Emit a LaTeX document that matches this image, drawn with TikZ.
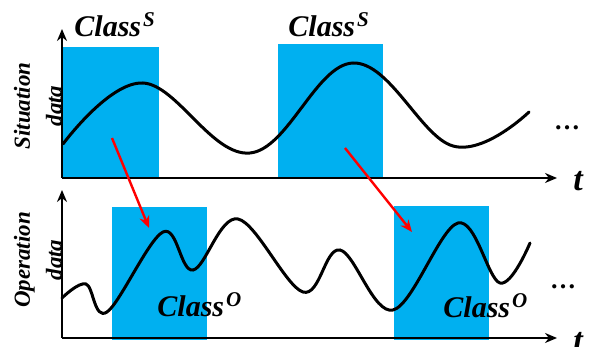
\documentclass[tikz,border=0pt]{standalone}
\usepackage{fontspec}
\setmainfont{Liberation Serif}
\usetikzlibrary{arrows.meta,positioning}
\definecolor{boxblue}{RGB}{0,176,240}
\tikzset{
  classbox/.style={
    fill = boxblue,
    draw = none
  },
  axis/.style={
    line width = 1.4pt,
    -{Stealth[length=6pt,width=5pt]}
  },
  signal/.style={
    line width = 1.5pt,
    line cap = round
  },
  link/.style={
    draw = red,
    line width = 1.2pt,
    -{Stealth[length=6pt,width=5pt]}
  },
  classlbl/.style={
    anchor = base west,
    inner sep = 0pt,
    font = \fontsize{15}{17}\selectfont\bfseries\itshape
  },
  ylbl/.style={
    rotate = 90,
    align = center,
    inner sep = 0pt,
    font = \fontsize{11.5}{16}\selectfont\bfseries\itshape
  },
  tlbl/.style={
    inner sep = 0pt,
    font = \fontsize{17}{17}\selectfont\bfseries\itshape
  },
  dotslbl/.style={
    inner sep = 0pt,
    font = \fontsize{13}{13}\selectfont\bfseries
  },
}
\begin{document}
\begin{tikzpicture}[x=0.5pt,y=-0.5pt]
  \useasboundingbox (0,0) rectangle (590,347);
  % class windows
  \fill[classbox] (63,47) rectangle (159,179);
  \fill[classbox] (278,44) rectangle (383,179);
  \fill[classbox] (112,207) rectangle (207,340);
  \fill[classbox] (394,206) rectangle (489,340);
  % signals
  \draw[signal] plot[smooth,tension=0.65] coordinates {(63,144) (143,83) (250,153) (353,63) (453,146) (529,112)};
  \draw[signal] plot[smooth,tension=0.6] coordinates {(62,298) (86,284) (107,312) (163,232) (193,270) (238,219) (303,292) (340,250) (393,310) (458,223) (500,283) (530,243)};
  % axes
  \foreach \name/\y/\top in {sit/178/29,op/338/190}{
    \coordinate (o\name) at (62,\y);
    \coordinate (y\name) at (62,\top);
    \coordinate (x\name) at (557,\y);
    \draw[axis] (o\name) -- (y\name);
    \draw[axis] (o\name) -- (x\name);
  }
  \node[tlbl] (tsit) at (578,181) {t};
  \node[tlbl] (top) at (578,342) {t};
  % labels
  \node[ylbl] (lsit) at (38,106) {Situation\\data};
  \node[ylbl] (lop) at (38,260) {Operation\\data};
  \node[classlbl] (cs1) at (74,37) {Class\kern1pt\textsuperscript{S}};
  \node[classlbl] (cs2) at (288,37) {Class\kern1pt\textsuperscript{S}};
  \node[classlbl] (co1) at (157,317) {Class\kern1pt\textsuperscript{O}};
  \node[classlbl] (co2) at (443,318) {Class\kern1pt\textsuperscript{O}};
  \node[dotslbl] (dsit) at (567,128) {\dots};
  \node[dotslbl] (dop) at (563,287) {\dots};
  % mapping
  \coordinate (a1) at (112,138);
  \coordinate (b1) at (149,228);
  \coordinate (a2) at (345,148);
  \coordinate (b2) at (412,232);
  \draw[link] (a1) -- (b1);
  \draw[link] (a2) -- (b2);
\end{tikzpicture}
\end{document}
